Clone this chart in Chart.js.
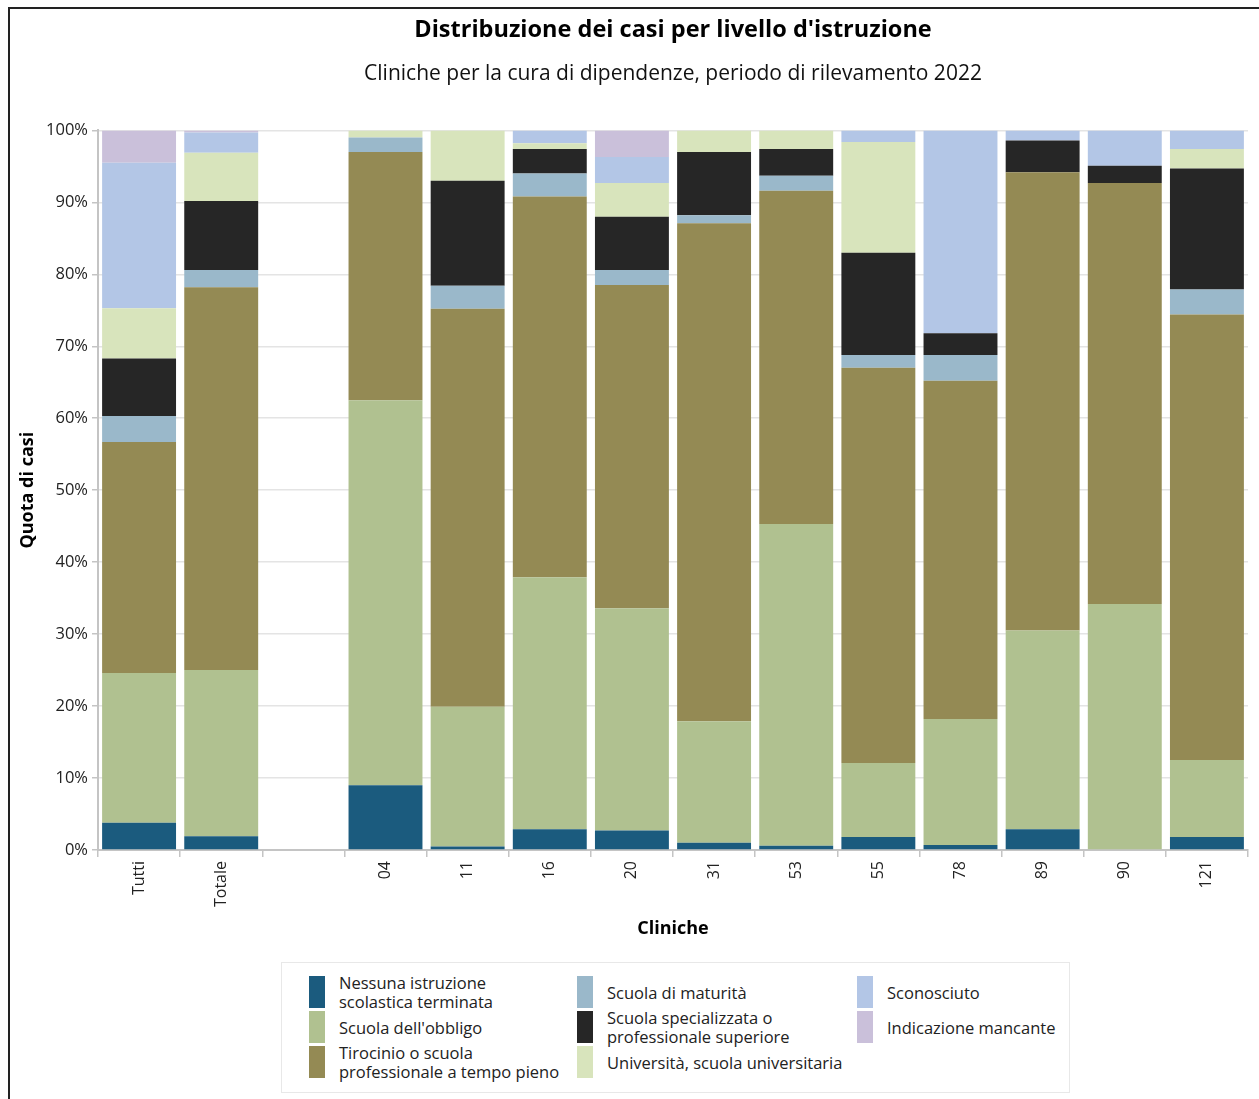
<!DOCTYPE html>
<html lang="it">
<head>
<meta charset="utf-8">
<title>Distribuzione dei casi per livello d'istruzione</title>
<script src="https://cdn.jsdelivr.net/npm/chart.js@4"></script>
<style>
    body {
        margin: 0;
        background: #fff;
        font-family: 'Open Sans', sans-serif;
    }
    .frame {
        position: absolute;
        left: 8px;
        top: 7px;
        width: 1251px;
        height: 1092px;
        border-left: 2px solid #222;
        border-top: 2px solid #222;
    }
    .chart-box {
        position: absolute;
        left: 10px;
        top: 9px;
        width: 1249px;
        height: 941px;
    }
    .legend {
        position: absolute;
        left: 281px;
        top: 962px;
        width: 760px;
        height: 116px;
        padding: 13px 0 0 27px;
        border: 1px solid #e8e8e8;
        display: grid;
        grid-auto-flow: column;
        grid-template-rows: 35px 35px 35px;
        grid-template-columns: 268px 280px 200px;
        font-size: 16.5px;
        color: #222;
    }
    .legend-item {
        display: flex;
        align-items: center;
        height: 32px;
    }
    .legend-item span.swatch {
        flex: none;
        width: 16px;
        height: 32px;
        margin-right: 14px;
    }
    .legend-item span.label {
        line-height: 19px;
    }
</style>
</head>
<body>
<div class="frame"></div>
<div class="chart-box"><canvas id="ChartIstruzione"></canvas></div>
<div class="legend" id="Legend"></div>

<script>
// Categories (empty slot separates the totals from the clinics)
const categories = ['Tutti', 'Totale', '', '04', '11', '16', '20', '31', '53', '55', '78', '89', '90', '121'];

// Shares in percent, one array per education level
const nessuna = [3.8, 1.9, null, 9.0, 0.5, 2.9, 2.7, 1.0, 0.6, 1.8, 0.7, 2.9, 0, 1.8];
const obbligo = [20.8, 23.1, null, 53.5, 19.4, 35.0, 30.9, 16.9, 44.7, 10.3, 17.5, 27.6, 34.2, 10.7];
const tirocinio = [32.1, 53.2, null, 34.5, 55.3, 52.9, 44.9, 69.2, 46.3, 54.9, 47.0, 63.7, 58.5, 61.9];
const maturita = [3.6, 2.4, null, 2.0, 3.2, 3.2, 2.1, 1.1, 2.1, 1.8, 3.6, 0, 0, 3.5];
const specializzata = [8.0, 9.6, null, 0, 14.6, 3.4, 7.4, 8.8, 3.7, 14.2, 3.0, 4.4, 2.4, 16.8];
const universita = [7.0, 6.7, null, 1.0, 7.0, 0.8, 4.7, 3.0, 2.6, 15.4, 0, 0, 0, 2.7];
const sconosciuto = [20.2, 2.8, null, 0, 0, 1.8, 3.6, 0, 0, 1.6, 28.2, 1.4, 4.9, 2.6];
const mancante = [4.5, 0.3, null, 0, 0, 0, 3.7, 0, 0, 0, 0, 0, 0, 0];

const yTicks = [0, 10, 20, 30, 40, 50, 60, 70, 80, 90, 100];

const series = [
    { label: ['Nessuna istruzione', 'scolastica terminata'], data: nessuna, color: '#1b5b7e' },
    { label: ["Scuola dell'obbligo"], data: obbligo, color: '#b0c190' },
    { label: ['Tirocinio o scuola', 'professionale a tempo pieno'], data: tirocinio, color: '#948a54' },
    { label: ['Scuola di maturità'], data: maturita, color: '#9ab8ca' },
    { label: ['Scuola specializzata o', 'professionale superiore'], data: specializzata, color: '#262626' },
    { label: ['Università, scuola universitaria'], data: universita, color: '#d8e4bc' },
    { label: ['Sconosciuto'], data: sconosciuto, color: '#b3c6e6' },
    { label: ['Indicazione mancante'], data: mancante, color: '#cac0da' }
];

const fontFamily = "'Open Sans', sans-serif";

new Chart(document.getElementById('ChartIstruzione'), {
    type: 'bar',
    data: {
        labels: categories,
        datasets: series.map((s) => {
            return {
                label: s.label.join(' '),
                data: s.data,
                backgroundColor: s.color,
                borderWidth: 0,
                barPercentage: 0.9,
                categoryPercentage: 1
            };
        })
    },
    options: {
        responsive: true,
        maintainAspectRatio: false,
        animation: false,
        layout: {
            padding: { left: 0, right: 11, top: 0, bottom: 8 }
        },
        plugins: {
            legend: { display: false },
            tooltip: { enabled: false },
            title: {
                display: true,
                text: "Distribuzione dei casi per livello d'istruzione",
                fullSize: false,
                color: '#000',
                font: { family: fontFamily, size: 23.5, weight: 'bold' },
                padding: { top: 7, bottom: 8 }
            },
            subtitle: {
                display: true,
                text: 'Cliniche per la cura di dipendenze, periodo di rilevamento 2022',
                fullSize: false,
                color: '#111',
                font: { family: fontFamily, size: 21 },
                padding: { top: 9, bottom: 44 }
            }
        },
        scales: {
            x: {
                stacked: true,
                grid: {
                    offset: true,
                    drawOnChartArea: false,
                    drawTicks: true,
                    tickLength: 7,
                    tickColor: '#c4c4c4',
                    lineWidth: 1.5
                },
                border: { color: '#c4c4c4', width: 2 },
                ticks: {
                    color: '#222',
                    font: { family: fontFamily, size: 16 },
                    minRotation: 90,
                    maxRotation: 90,
                    autoSkip: false,
                    padding: 4
                },
                title: {
                    display: true,
                    text: 'Cliniche',
                    color: '#000',
                    font: { family: fontFamily, size: 18, weight: 'bold' },
                    padding: { top: 0, bottom: 2 }
                },
                afterFit: (scale) => {
                    scale.height = 92;
                }
            },
            y: {
                stacked: true,
                min: 0,
                max: 100,
                afterBuildTicks: (scale) => {
                    scale.ticks = yTicks.map((v) => ({ value: v }));
                },
                grid: {
                    color: '#e4e4e4',
                    lineWidth: 1.5,
                    tickColor: '#c4c4c4',
                    tickLength: 6
                },
                border: { color: '#c4c4c4', width: 2 },
                ticks: {
                    color: '#222',
                    font: { family: fontFamily, size: 16.5 },
                    padding: 4,
                    callback: (v) => v + '%'
                },
                title: {
                    display: true,
                    text: 'Quota di casi',
                    color: '#000',
                    font: { family: fontFamily, size: 18, weight: 'bold' },
                    padding: { top: 7, bottom: 0 }
                },
                afterFit: (scale) => {
                    scale.width = 88;
                }
            }
        }
    }
});

// HTML legend, filled column by column
const legend = document.getElementById('Legend');
series.forEach((s) => {
    const item = document.createElement('div');
    item.className = 'legend-item';

    const swatch = document.createElement('span');
    swatch.className = 'swatch';
    swatch.style.background = s.color;

    const label = document.createElement('span');
    label.className = 'label';
    label.innerHTML = s.label.join('<br>');

    item.appendChild(swatch);
    item.appendChild(label);
    legend.appendChild(item);
});
</script>
</body>
</html>
